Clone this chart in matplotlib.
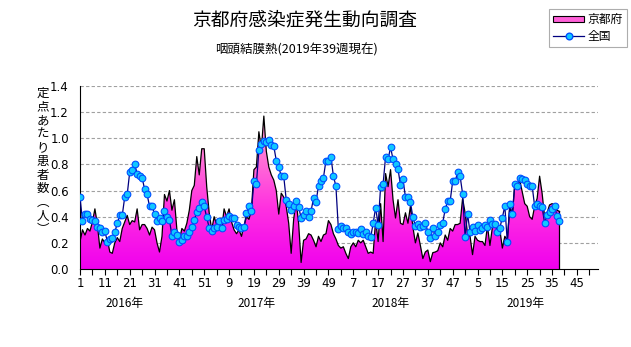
import numpy as np
import matplotlib.pyplot as plt
from matplotlib.colors import LinearSegmentedColormap
from matplotlib.patches import Patch
from matplotlib.lines import Line2D
import matplotlib.transforms as mtransforms

plt.rcParams['font.family'] = ['Noto Sans CJK JP', 'DejaVu Sans']

# weekly values, 2016 wk1 .. 2019 wk38/39 (per sentinel)
kyoto = [
    0.21, 0.30, 0.26, 0.31, 0.29, 0.36, 0.46, 0.34, 0.16, 0.23,
    0.20, 0.23, 0.13, 0.12, 0.20, 0.24, 0.21, 0.31, 0.36, 0.41,
    0.34, 0.37, 0.36, 0.46, 0.30, 0.34, 0.34, 0.31, 0.26, 0.32,
    0.30, 0.20, 0.13, 0.25, 0.57, 0.52, 0.60, 0.45, 0.53, 0.30,
    0.22, 0.31, 0.29, 0.35, 0.45, 0.60, 0.64, 0.86, 0.72, 0.92,
    0.92, 0.63, 0.43, 0.30, 0.40, 0.34, 0.36, 0.30, 0.46, 0.40,
    0.46, 0.36, 0.30, 0.27, 0.30, 0.25, 0.33, 0.40, 0.38, 0.45,
    0.76, 0.78, 1.05, 0.92, 1.17, 0.90, 0.78, 0.72, 0.68, 0.60,
    0.42, 0.58, 0.55, 0.48, 0.35, 0.12, 0.38, 0.52, 0.35, 0.05,
    0.22, 0.23, 0.27, 0.26, 0.22, 0.17, 0.25, 0.21, 0.26, 0.27,
    0.37, 0.34, 0.27, 0.23, 0.18, 0.16, 0.17, 0.12, 0.08, 0.17,
    0.20, 0.17, 0.22, 0.20, 0.22, 0.17, 0.12, 0.13, 0.12, 0.375,
    0.21, 0.50, 0.21, 0.73, 0.63, 0.76, 0.53, 0.39, 0.53, 0.35,
    0.34, 0.43, 0.35, 0.48, 0.32, 0.20, 0.275, 0.18, 0.08, 0.13,
    0.145, 0.056, 0.125, 0.13, 0.14, 0.20, 0.17, 0.26, 0.22, 0.31,
    0.29, 0.34, 0.34, 0.35, 0.54, 0.43, 0.27, 0.25, 0.11, 0.25,
    0.22, 0.21, 0.21, 0.18, 0.33, 0.18, 0.32, 0.32, 0.32, 0.30,
    0.16, 0.25, 0.22, 0.48, 0.40, 0.65, 0.64, 0.68, 0.59, 0.50,
    0.48, 0.40, 0.38, 0.48, 0.54, 0.71, 0.58, 0.40, 0.43, 0.49,
    0.50, 0.49, 0.45, 0.44,
]

national = [
    0.55, 0.37, 0.42, 0.42, 0.385, 0.375, 0.37, 0.32, 0.31, 0.285,
    0.29, 0.21, 0.23, 0.24, 0.28, 0.35, 0.41, 0.41, 0.55, 0.57,
    0.74, 0.76, 0.80, 0.73, 0.71, 0.70, 0.61, 0.57, 0.48, 0.48,
    0.42, 0.37, 0.39, 0.37, 0.44, 0.40, 0.375, 0.255, 0.285, 0.26,
    0.21, 0.225, 0.255, 0.25, 0.28, 0.32, 0.375, 0.435, 0.47, 0.515,
    0.48, 0.395, 0.315, 0.29, 0.315, 0.32, 0.37, 0.315, 0.375, 0.385,
    0.405, 0.39, 0.39, 0.34, 0.32, 0.315, 0.32, 0.425, 0.48, 0.44,
    0.67, 0.65, 0.91, 0.96, 0.98, 0.975, 0.99, 0.945, 0.94, 0.83,
    0.78, 0.71, 0.71, 0.53, 0.50, 0.45, 0.48, 0.52, 0.475, 0.39,
    0.41, 0.44, 0.40, 0.445, 0.54, 0.515, 0.635, 0.67, 0.70, 0.83,
    0.83, 0.86, 0.71, 0.635, 0.305, 0.33, 0.31, 0.316, 0.286, 0.268,
    0.286, 0.286, 0.273, 0.306, 0.268, 0.286, 0.255, 0.242, 0.35, 0.47,
    0.337, 0.63, 0.65, 0.86, 0.84, 0.93, 0.84, 0.80, 0.765, 0.64,
    0.686, 0.55, 0.55, 0.51, 0.395, 0.33, 0.345, 0.324, 0.33, 0.35,
    0.286, 0.24, 0.31, 0.25, 0.286, 0.334, 0.355, 0.457, 0.52, 0.52,
    0.67, 0.67, 0.74, 0.71, 0.575, 0.247, 0.42, 0.28, 0.324, 0.29,
    0.337, 0.30, 0.31, 0.34, 0.324, 0.375, 0.345, 0.345, 0.286, 0.316,
    0.393, 0.482, 0.204, 0.497, 0.418, 0.648, 0.635, 0.699, 0.686, 0.68,
    0.648, 0.635, 0.635, 0.48, 0.497, 0.48, 0.472, 0.352, 0.415, 0.436,
    0.459, 0.482, 0.406, 0.367,
]

tick_labels = ['1', '11', '21', '31', '41', '51', '9', '19', '29', '39', '49',
               '7', '17', '27', '37', '47', '5', '15', '25', '35', '45']
years = ['2016年', '2017年', '2018年', '2019年']
year_pos = [18, 71, 125, 179.5]

x = np.arange(len(kyoto))
xn = np.arange(len(national))

fig = plt.figure(figsize=(6.31, 3.47), dpi=100)
ax = fig.add_axes([80/631, 1-269/347, 518/631, 183/347])

ax.set_xlim(0, 208.5)
ax.set_ylim(0, 1.4)

# grid behind the area
for g in np.arange(0.2, 1.41, 0.2):
    ax.axhline(g, color='#a0a0a0', lw=0.8, ls=(0, (3, 2)), zorder=0)

# pink gradient area
poly = ax.fill_between(x, kyoto, 0, facecolor='none', edgecolor='none', zorder=1)
cmap = LinearSegmentedColormap.from_list('pk', ['#f000ee', '#ff30e0', '#ff80d4', '#ffb0e0'])
grad = np.linspace(0, 1, 256).reshape(-1, 1)
im = ax.imshow(grad, extent=[0, 208.5, 0, 1.4], origin='lower', aspect='auto',
               cmap=cmap, vmin=0, vmax=1, zorder=1)
im.set_clip_path(poly.get_paths()[0], transform=ax.transData)
ax.plot(x, kyoto, color='black', lw=0.9, zorder=2)
ax.plot([x[-1], x[-1]], [0, kyoto[-1]], color='black', lw=0.9, zorder=2)

ax.plot(xn, national, color='#000080', lw=0.9, marker='o', ms=4.8,
        mfc='#10c8ff', mec='#0050ff', mew=0.8, zorder=3)

for s in ['top', 'right']:
    ax.spines[s].set_visible(False)
ax.spines['left'].set_color('black')
ax.spines['bottom'].set_color('black')

ax.set_xticks(np.arange(0, 201, 10))
ax.set_xticks(np.arange(5, 206, 10), minor=True)
ax.set_xticklabels(tick_labels)
ax.tick_params(axis='x', which='both', direction='out', length=4, width=0.8, pad=2)
ax.set_yticks(np.arange(0, 1.41, 0.2))
ax.set_yticklabels(['%.1f' % v for v in np.arange(0, 1.41, 0.2)])
ax.tick_params(axis='y', length=0, pad=8)
for lab in ax.get_xticklabels() + ax.get_yticklabels():
    lab.set_family(['Liberation Sans Narrow', 'DejaVu Sans'])
    lab.set_fontsize(8.5)

tr = mtransforms.blended_transform_factory(ax.transData, fig.transFigure)
for yl, xp in zip(years, year_pos):
    ax.text(xp, 1-304/347, yl, transform=tr, ha='center', va='center', fontsize=8.5)

fig.text(305/631, 1-20/347, '京都府感染症発生動向調査', ha='center', va='center', fontsize=13.5)
fig.text(296/631, 1-50/347, '咽頭結膜熱(2019年39週現在)', ha='center', va='center', fontsize=9)

# vertical axis title, one glyph per line
ylab = '定点あたり患者数︵人︶'
for k, ch in enumerate(ylab):
    fig.text(43/631, 1-(93+k*13.7)/347, ch, ha='center', va='center', fontsize=9)

handles = [Patch(facecolor='#ff60d8', edgecolor='black', lw=0.8),
           Line2D([0], [0], color='#000080', lw=0.9, marker='o', ms=4.8,
                  mfc='#10c8ff', mec='#0050ff')]
leg = fig.legend(handles, ['京都府', '全国'], loc='upper right',
                 bbox_to_anchor=(627/631, 1-9/347), fontsize=8.5, frameon=True,
                 fancybox=False, handlelength=2.6, handleheight=0.5,
                 handletextpad=0.3, borderpad=0.35, labelspacing=0.35, borderaxespad=0)
leg.get_frame().set_edgecolor('#999999')
leg.get_frame().set_linewidth(0.8)

fig.savefig('out.png', dpi=100)
